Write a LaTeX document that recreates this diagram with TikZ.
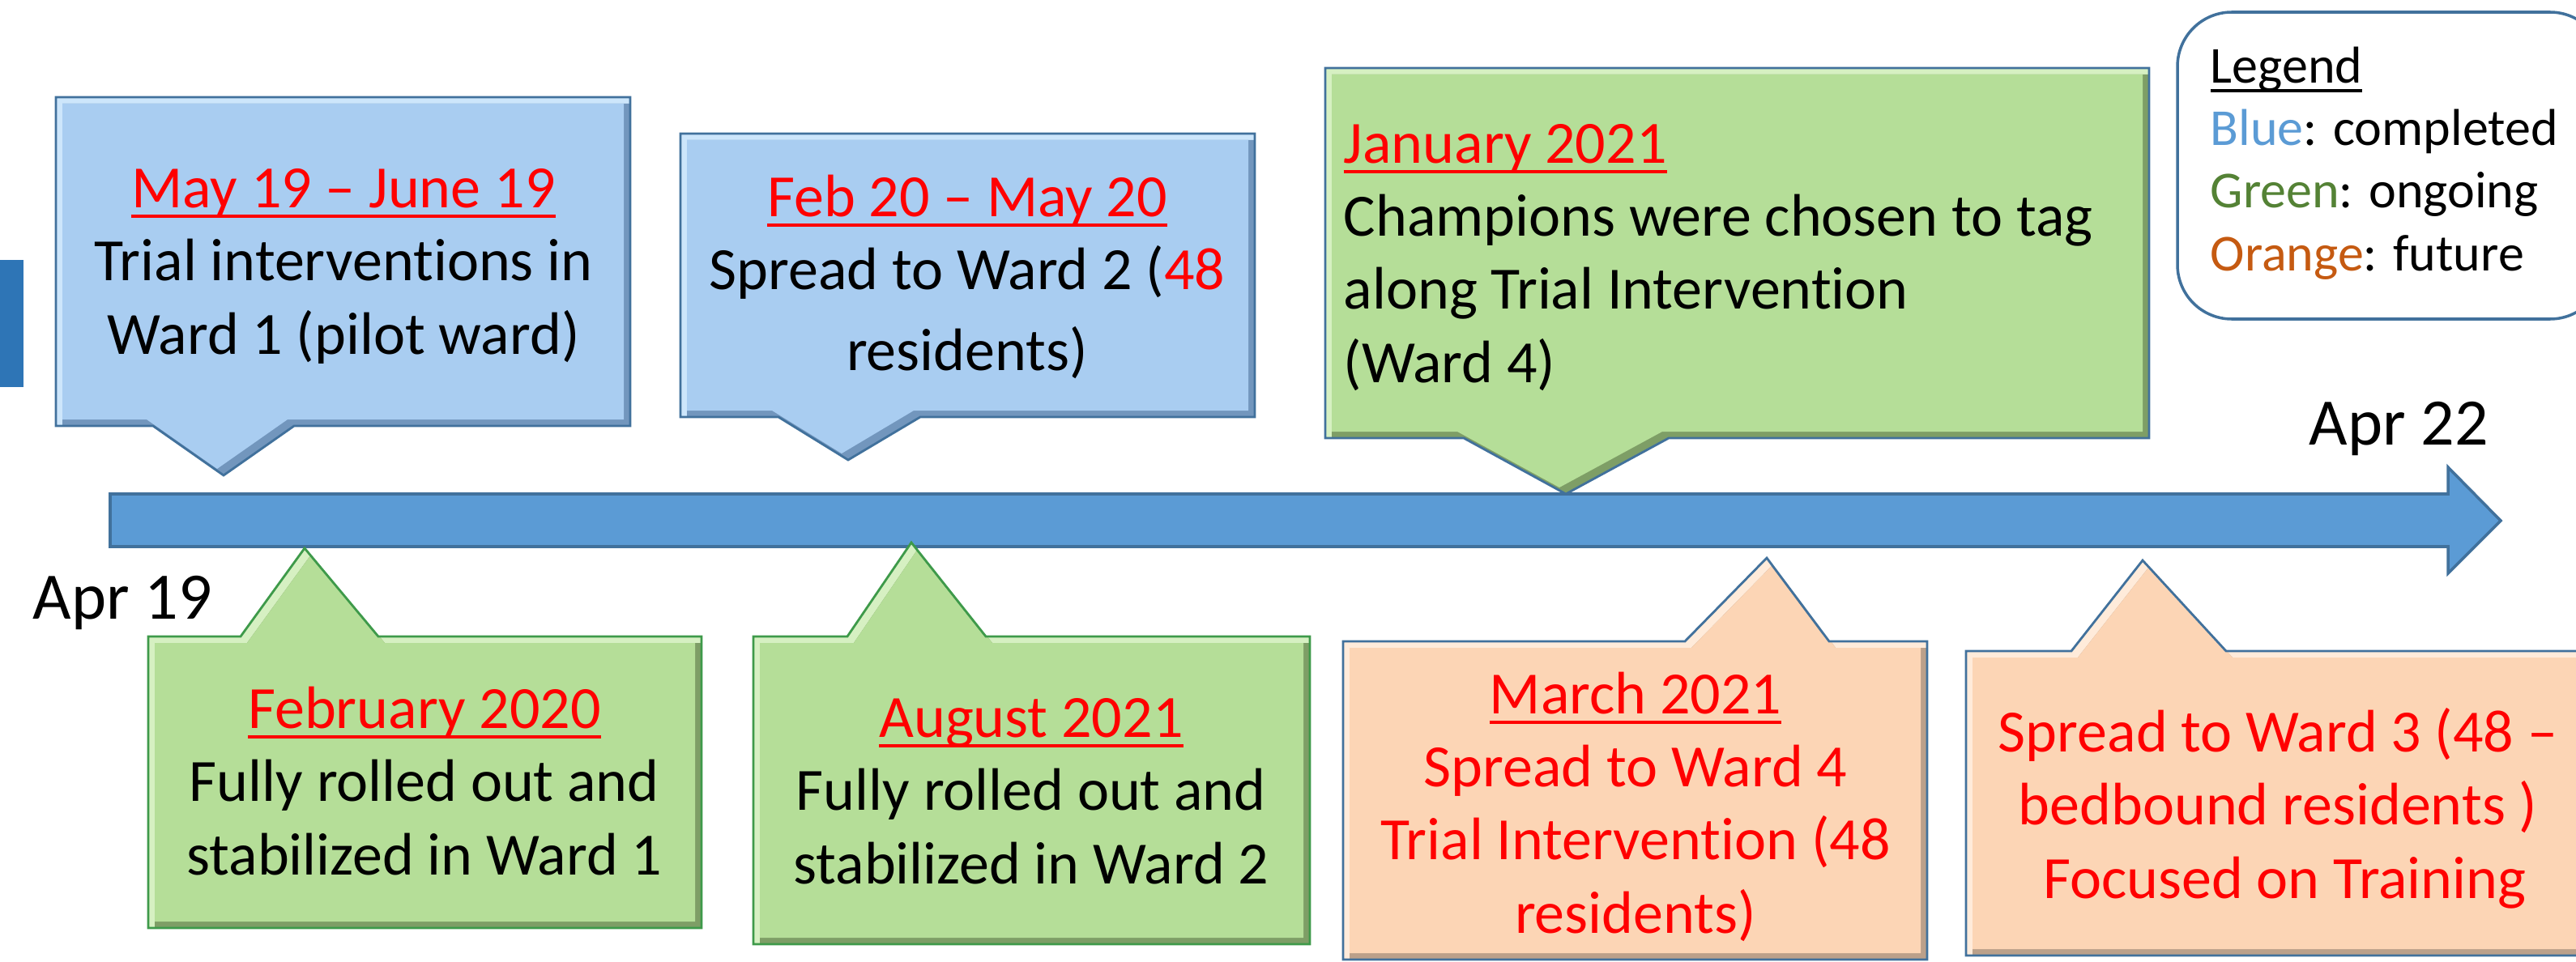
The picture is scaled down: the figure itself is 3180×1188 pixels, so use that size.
\documentclass[tikz,border=0pt]{standalone}
\usepackage{fontspec}
\setmainfont{Carlito}[Ligatures=NoCommon]
\definecolor{axisblue}{HTML}{5B9BD5}
\definecolor{axisedge}{HTML}{41719C}
\definecolor{barblue}{HTML}{2E75B6}
\definecolor{bluemain}{HTML}{A9CDF1}
\definecolor{bluelight}{HTML}{CDE6FB}
\definecolor{bluedark}{HTML}{7296BD}
\definecolor{greenmain}{HTML}{B5DE98}
\definecolor{greenlight}{HTML}{D6F0C2}
\definecolor{greendark}{HTML}{7E9E66}
\definecolor{greenedge}{HTML}{3E9A4A}
\definecolor{orangemain}{HTML}{FCD5B5}
\definecolor{orangelight}{HTML}{FFEBDA}
\definecolor{orangedark}{HTML}{BBA08A}
\definecolor{legblue}{HTML}{5B9BD5}
\definecolor{leggreen}{HTML}{548235}
\definecolor{legorange}{HTML}{C55A11}
\definecolor{datered}{HTML}{FF0000}
% underlined heading
\newcommand{\uln}[1]{\setbox0\hbox{#1}\rlap{\rule[-0.17em]{\wd0}{0.055em}}\box0}
% callout with bevelled edge: path, main, light, dark, outline
\newcommand{\bevelbox}[5]{%
  \begin{scope}
    \clip #1;
    \fill[#3] #1;
    \fill[#4, shift={(8,8)}] #1;
    \begin{scope}[shift={(8,8)}]
      \clip #1;
      \fill[#2, shift={(-16,-16)}] #1;
    \end{scope}
  \end{scope}
  \draw[#5, line width=0.8pt] #1;}
\begin{document}
\begin{tikzpicture}[x=0.01cm,y=-0.01cm,
  boxtext/.style={font=\fontsize{0.74cm}{0.9cm}\selectfont, align=center, anchor=base, inner sep=0pt},
  endlabel/.style={font=\fontsize{0.82cm}{1cm}\selectfont, anchor=base west, inner sep=0pt},
  legendtext/.style={font=\fontsize{0.64cm}{0.77cm}\selectfont, align=left, anchor=base west, inner sep=0pt}]
\useasboundingbox (0,0) rectangle (3180,1188);
% time axis
\fill[barblue] (0,321) rectangle (29,478);
\filldraw[fill=axisblue, draw=axisedge, line width=1pt] (136,610) -- (3022,610) -- (3022,577) -- (3087,643) -- (3022,708) -- (3022,675) -- (136,675) -- cycle;
\node[endlabel] (apr19) at (40,764) {Apr 19};
\node[endlabel] (apr22) at (2850,549) {Apr 22};
% callouts above the axis
\bevelbox{(69,120) -- (778,120) -- (778,526) -- (363,526) -- (276,587) -- (189,526) -- (69,526) -- cycle}{bluemain}{bluelight}{bluedark}{axisedge}
\bevelbox{(840,165) -- (1549,165) -- (1549,515) -- (1136,515) -- (1047,568) -- (961,515) -- (840,515) -- cycle}{bluemain}{bluelight}{bluedark}{axisedge}
\bevelbox{(1636,84) -- (2653,84) -- (2653,541) -- (2060,541) -- (1933,610) -- (1807,541) -- (1636,541) -- cycle}{greenmain}{greenlight}{greendark}{axisedge}
% callouts below the axis
\bevelbox{(183,786) -- (297,786) -- (376,677) -- (467,786) -- (866,786) -- (866,1146) -- (183,1146) -- cycle}{greenmain}{greenlight}{greendark}{greenedge}
\bevelbox{(930,786) -- (1046,786) -- (1125,670) -- (1217,786) -- (1617,786) -- (1617,1166) -- (930,1166) -- cycle}{greenmain}{greenlight}{greendark}{greenedge}
\bevelbox{(1658,792) -- (2080,792) -- (2181,689) -- (2258,792) -- (2379,792) -- (2379,1185) -- (1658,1185) -- cycle}{orangemain}{orangelight}{orangedark}{axisedge}
\bevelbox{(2427,804) -- (2557,804) -- (2645,692) -- (2748,804) -- (3200,804) -- (3200,1180) -- (2427,1180) -- cycle}{orangemain}{orangelight}{orangedark}{axisedge}
% texts (placed at the baseline of their last line)
\node[boxtext] (mayjune) at (424,437) {\textcolor{datered}{\uln{May 19 – June 19}}\\Trial interventions in\\Ward 1 (pilot ward)};
\node[boxtext] (febmay) at (1194,458) {\textcolor{datered}{\uln{Feb 20 – May 20}}\\Spread to Ward 2 (\textcolor{datered}{48}\\[0.1cm]residents)};
\node[boxtext, align=left, anchor=base west] (jan21) at (1658,472) {\textcolor{datered}{\uln{January 2021}}\\Champions were chosen to tag\\along Trial Intervention\\(Ward 4)};
\node[boxtext] (feb20) at (524,1080) {\textcolor{datered}{\uln{February 2020}}\\Fully rolled out and\\stabilized in Ward 1};
\node[boxtext] (aug21) at (1273,1091) {\textcolor{datered}{\uln{August 2021}}\\Fully rolled out and\\stabilized in Ward 2};
\node[boxtext, text=datered] (mar21) at (2019,1152) {\uln{March 2021}\\Spread to Ward 4\\Trial Intervention (48\\residents)};
\node[boxtext, text=datered] (ward3) at (2812,1109) {Spread to Ward 3 (48 –\\bedbound residents )\\\ Focused on Training};
% legend
\draw[axisedge, line width=1pt, rounded corners=0.67cm] (2688,15) rectangle (3215,394);
\node[legendtext] (legend) at (2728,334) {\uln{Legend}\\\textcolor{legblue}{Blue}: completed\\\textcolor{leggreen}{Green}: ongoing\\\textcolor{legorange}{Orange}: future};
\end{tikzpicture}
\end{document}
